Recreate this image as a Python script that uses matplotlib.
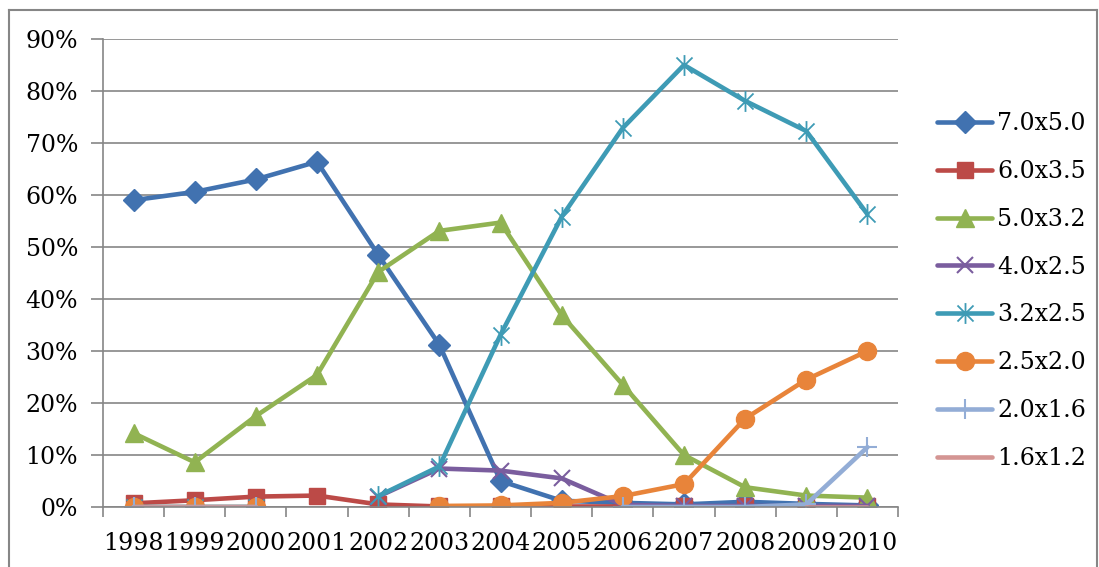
import numpy as np
import matplotlib
matplotlib.use("Agg")
import matplotlib.pyplot as plt
from matplotlib.path import Path
from matplotlib.lines import Line2D

plt.rcParams['font.family'] = ['DejaVu Serif']

years = ['1998', '1999', '2000', '2001', '2002', '2003', '2004',
         '2005', '2006', '2007', '2008', '2009', '2010']
nan = np.nan
s_70x50 = [59.0, 60.6, 63.0, 66.4, 48.5, 31.2, 5.0, 1.2, 0.8, 0.5, 1.0, 0.6, 0.3]
s_60x35 = [0.7, 1.3, 2.0, 2.2, 0.5, 0.1, 0.1, 0.1, 0.1, 0.1, 0.1, 0.1, 0.1]
s_50x32 = [14.2, 8.6, 17.5, 25.4, 45.2, 53.1, 54.7, 36.9, 23.5, 10.0, 3.8, 2.2, 1.8]
s_40x25 = [nan, nan, nan, nan, 2.0, 7.4, 7.0, 5.5, 0.4, 0.2, 0.2, 0.2, 0.2]
s_32x25 = [0.0, 0.0, 0.0, nan, 2.1, 7.8, 33.1, 55.8, 72.9, 85.0, 78.1, 72.3, 56.3]
s_25x20 = [0.0, 0.0, 0.0, nan, nan, 0.2, 0.3, 0.8, 2.1, 4.4, 17.0, 24.5, 30.0]
s_20x16 = [0.0, 0.0, 0.0, nan, nan, nan, nan, nan, 0.0, 0.0, 0.0, 0.5, 11.5]
s_16x12 = [0.0, 0.0, 0.0, nan, nan, nan, nan, nan, nan, nan, nan, 0.0, 0.0]

labels = ['7.0x5.0', '6.0x3.5', '5.0x3.2', '4.0x2.5', '3.2x2.5', '2.5x2.0', '2.0x1.6', '1.6x1.2']
series = [s_70x50, s_60x35, s_50x32, s_40x25, s_32x25, s_25x20, s_20x16, s_16x12]
colors = ['#4172B0', '#BC4A47', '#91B352', '#7A5D9E', '#3E9BB5', '#E8843A', '#93ADD6', '#D49593']

# Excel-style "star": x plus vertical bar
star = Path([(-1, -1), (1, 1), (-1, 1), (1, -1), (0, -1.3), (0, 1.3)],
            [Path.MOVETO, Path.LINETO, Path.MOVETO, Path.LINETO, Path.MOVETO, Path.LINETO])

mstyles = [
    dict(marker='D', ms=11),
    dict(marker='s', ms=12),
    dict(marker='^', ms=13),
    dict(marker='x', ms=11, mew=1.5),
    dict(marker=star, ms=15, mew=1.3),
    dict(marker='o', ms=13),
    dict(marker='+', ms=15, mew=1.5),
    dict(marker='None'),
]

fig = plt.figure(figsize=(10.99, 5.67), dpi=100)
W, H = 1099, 567
# outer chart border
for xs, ys in [((9, 9), (10, 580)), ((9, 1097), (10, 10)), ((1097, 1097), (10, 580))]:
    fig.add_artist(Line2D([x / W for x in xs], [1 - y / H for y in ys],
                          color='#868686', lw=1.5, transform=fig.transFigure))

ax = fig.add_axes([103 / W, 1 - 507 / H, (898 - 103) / W, (507 - 39) / H])
x = np.arange(len(years))
handles = []
for vals, lab, col, ms in zip(series, labels, colors, mstyles):
    h, = ax.plot(x, vals, color=col, lw=3.3, label=lab, mfc=col, mec=col,
                 solid_capstyle='round', solid_joinstyle='round', **ms)
    handles.append(h)

ax.set_xlim(-0.5, len(years) - 0.5)
ax.set_ylim(0, 90)
ax.set_yticks(np.arange(0, 91, 10))
ax.set_yticklabels([f'{v}%' for v in range(0, 91, 10)])
ax.yaxis.grid(True, color='#868686', lw=1.2)
ax.set_axisbelow(True)
ax.set_xticks(np.arange(-0.5, len(years), 1.0))
ax.set_xticklabels([])
ax.set_xticks(x, minor=True)
ax.set_xticklabels(years, minor=True)
ax.tick_params(axis='x', which='major', length=7, color='#868686', width=1.2, direction='out')
ax.tick_params(axis='x', which='minor', length=0, pad=18, labelsize=17)
ax.tick_params(axis='y', length=9, color='#868686', width=1.2, pad=9, labelsize=17)
for s in ['top', 'right']:
    ax.spines[s].set_visible(False)
for s in ['left', 'bottom']:
    ax.spines[s].set_color('#868686')
    ax.spines[s].set_linewidth(1.2)

leg = fig.legend(handles=handles, labels=labels, loc='center left',
                 bbox_to_anchor=(928 / W, 1 - 291 / H), frameon=False,
                 fontsize=17, handlelength=2.35, labelspacing=1.05,
                 handletextpad=0.2, borderaxespad=0, borderpad=0.38)

fig.savefig('out.png', dpi=100)
